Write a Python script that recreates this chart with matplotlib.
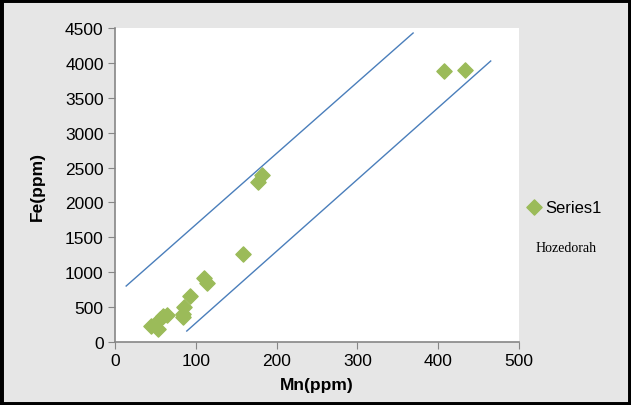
import matplotlib.pyplot as plt
from matplotlib.patches import Rectangle

# Scatter data
mn = [45, 54, 56, 60, 64, 84, 84, 85, 93, 110, 114, 158, 177, 182, 407, 433]
fe = [234, 186, 330, 377, 387, 363, 400, 497, 655, 913, 841, 1265, 2293, 2393, 3890, 3900]

# The two envelope lines
upper_x = [14, 369]
upper_y = [803, 4428]
lower_x = [89, 465]
lower_y = [158, 4027]

fig = plt.figure(figsize=(6.31, 4.06), dpi=100)
fig.patch.set_facecolor('#e6e6e6')
ax = fig.add_axes([0.182, 0.155, 0.6405, 0.7736])
ax.set_facecolor('white')

ax.plot(upper_x, upper_y, color='#4a7ebb', lw=1)
ax.plot(lower_x, lower_y, color='#4a7ebb', lw=1)
ax.scatter(mn, fe, marker='D', s=60, color='#9bbb59', zorder=3, label='Series1')

ax.set_xlim(0, 500)
ax.set_ylim(0, 4500)
ax.set_xticks(range(0, 501, 100))
ax.set_yticks(range(0, 4501, 500))
for s in ['top', 'right']:
    ax.spines[s].set_visible(False)
for s in ['left', 'bottom']:
    ax.spines[s].set_color('#868686')
    ax.spines[s].set_linewidth(1.2)
ax.tick_params(direction='out', color='#868686', length=5, pad=3, labelsize=12.5)
for lbl in ax.get_xticklabels() + ax.get_yticklabels():
    lbl.set_fontfamily('Liberation Sans')

ax.set_xlabel('Mn(ppm)', fontsize=12.5, fontweight='bold', family='Liberation Sans', labelpad=6)
ax.set_ylabel('Fe(ppm)', fontsize=12.5, fontweight='bold', family='Liberation Sans')
ax.yaxis.set_label_coords(-0.173, 0.5)

ax.legend(loc='center left', bbox_to_anchor=(1.0, 0.43), frameon=False,
          prop={'family': 'Liberation Sans', 'size': 12}, handlelength=1.0,
          handletextpad=0.15, borderaxespad=0.0)
fig.text(0.849, 0.389, 'Hozedorah', family='Liberation Serif', fontsize=10, va='center')

fig.patches.append(Rectangle((0, 0), 1, 1, transform=fig.transFigure,
                             fill=False, edgecolor='black', lw=5))

fig.savefig('out.png', dpi=100, facecolor=fig.get_facecolor())
